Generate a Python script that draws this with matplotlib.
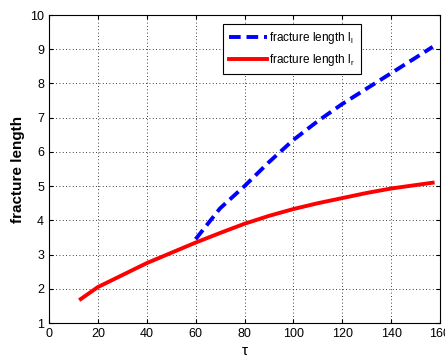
import numpy as np
import matplotlib
matplotlib.use('Agg')
import matplotlib.pyplot as plt

plt.rcParams['font.family'] = ['Liberation Sans', 'DejaVu Sans']

# red curve: fracture length l_r
tau_r = [13, 20, 30, 40, 50, 60, 70, 80, 90, 100, 110, 120, 130, 140, 150, 157]
len_r = [1.7, 2.05, 2.4, 2.75, 3.05, 3.35, 3.63, 3.9, 4.13, 4.33, 4.5, 4.65, 4.8, 4.93, 5.03, 5.1]

# blue curve: fracture length l_l
tau_l = [60, 65, 70, 80, 90, 100, 110, 120, 130, 140, 150, 157]
len_l = [3.45, 3.9, 4.35, 5.0, 5.7, 6.35, 6.9, 7.4, 7.85, 8.3, 8.75, 9.07]

fig = plt.figure(figsize=(4.45, 3.58), dpi=100)
ax = fig.add_axes([49/445, 1 - 323/358, (440-49)/445, (323-15)/358])

ax.plot(tau_l, len_l, color='blue', lw=2.8, linestyle=(0, (3, 1.5)), label=r'fracture length l$_\mathregular{l}$')
ax.plot(tau_r, len_r, color='red', lw=2.8, label=r'fracture length l$_\mathregular{r}$')

ax.set_xlim(0, 160)
ax.set_ylim(1, 10)
ax.set_xticks(np.arange(0, 161, 20))
ax.set_yticks(np.arange(1, 11, 1))
ax.grid(True, color='black', linestyle=(0, (1, 3)), linewidth=0.6)
ax.tick_params(direction='in', labelsize=9, length=3, top=True, right=True)
for s in ax.spines.values():
    s.set_linewidth(0.8)

ax.set_xlabel('τ', fontsize=11, labelpad=3)
ax.set_ylabel('fracture length', fontsize=11, fontweight='bold')

leg = ax.legend(loc='upper left', bbox_to_anchor=(0.43, 0.99), fontsize=8.5,
                fancybox=False, edgecolor='black', framealpha=1, handlelength=3.2,
                handletextpad=0.2, borderpad=0.5, labelspacing=0.5)
leg.get_frame().set_linewidth(0.8)

fig.savefig('out.png', dpi=100)
